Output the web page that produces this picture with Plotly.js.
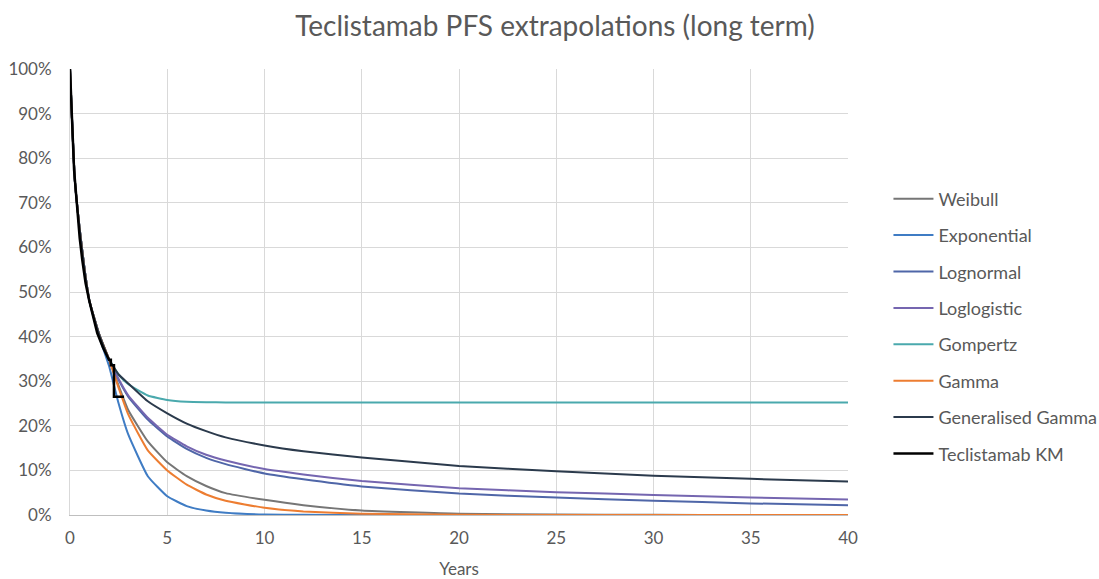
<!DOCTYPE html>
<html>
<head>
<meta charset="utf-8">
<script src="https://cdn.plot.ly/plotly-3.0.1.min.js"></script>
<style>
html,body{margin:0;padding:0;background:#fff;}
#chart{width:1099px;height:579px;}
</style>
</head>
<body>
<div id="chart"></div>
<script>
// Time points (years) for the parametric extrapolations
const years = [0, 0.1, 0.25, 0.5, 0.75, 1, 1.5, 2, 2.5, 3, 4, 5, 6, 7, 8, 10, 12, 15, 20, 25, 30, 35, 40];

// Survival (%) per model
const weibull      = [100, 89, 75, 64, 55, 48, 40.5, 35, 29.0, 23.5, 16.5, 11.8, 8.7, 6.5, 4.9, 3.4, 2.2, 1.0, 0.3, 0.1, 0.03, 0.01, 0];
const exponential  = [100, 89, 75, 64, 55, 48, 40.0, 33.5, 25.0, 18.0, 8.7, 4.2, 2.0, 1.0, 0.5, 0.1, 0.03, 0, 0, 0, 0, 0, 0];
const lognormal    = [100, 89, 75, 64, 55, 48, 40.5, 35, 30.3, 26.5, 21.4, 17.6, 14.8, 12.8, 11.4, 9.3, 8.0, 6.4, 4.8, 3.9, 3.2, 2.6, 2.2];
const loglogistic  = [100, 89, 75, 64, 55, 48, 40.5, 35, 30.5, 26.8, 21.8, 18.0, 15.4, 13.5, 12.2, 10.3, 9.1, 7.6, 6.0, 5.1, 4.5, 3.9, 3.5];
const gompertz     = [100, 89, 75, 64, 55, 48, 40.5, 35, 31.5, 29.3, 26.8, 25.8, 25.4, 25.3, 25.25, 25.2, 25.2, 25.2, 25.2, 25.2, 25.2, 25.2, 25.2];
const gamma        = [100, 89, 75, 64, 55, 48, 40.5, 35, 28.5, 22.5, 14.5, 10.0, 6.8, 4.6, 3.2, 1.6, 0.8, 0.3, 0.05, 0, 0, 0, 0];
const genGamma     = [100, 89, 75, 64, 55, 48, 40.5, 35, 31.5, 29.5, 25.5, 22.8, 20.5, 18.8, 17.4, 15.6, 14.3, 12.9, 11.0, 9.8, 8.8, 8.1, 7.5];

// Kaplan-Meier observed data
const kmYears = [0, 0.05, 0.12, 0.21, 0.3, 0.38, 0.5, 0.63, 0.8, 0.98, 1.2, 1.4, 1.7, 2.0, 2.1, 2.1, 2.26, 2.26, 2.78];
const kmSurv  = [100, 93, 87, 77.4, 72, 68.4, 62, 57.2, 52, 48.2, 44, 40.8, 37.5, 34.8, 34.8, 33.6, 33.6, 26.5, 26.5];

const seriesNames  = ["Weibull", "Exponential", "Lognormal", "Loglogistic", "Gompertz", "Gamma", "Generalised Gamma", "Teclistamab KM"];
const xTicks = [0, 5, 10, 15, 20, 25, 30, 35, 40];
const yTicks = [0, 10, 20, 30, 40, 50, 60, 70, 80, 90, 100];

const colors = ["#767676", "#3f7cc4", "#4f66a8", "#7566b0", "#4aa9ad", "#ed7d31", "#2b3a4c", "#000000"];
const modelData = [weibull, exponential, lognormal, loglogistic, gompertz, gamma, genGamma];

const FONT = "Lato, 'Open Sans', sans-serif";

const traces = modelData.map((ys, i) => ({
  x: years, y: ys, type: "scatter", mode: "lines",
  name: seriesNames[i], legendgroup: "g" + i,
  line: {color: colors[i], width: 2, shape: "spline", smoothing: 0.4},
  hoverinfo: "skip"
}));
traces.push({
  x: kmYears, y: kmSurv, type: "scatter", mode: "lines",
  name: seriesNames[7], legendgroup: "g7",
  line: {color: colors[7], width: 2.5},
  hoverinfo: "skip"
});

const layout = {
  width: 1099, height: 579,
  paper_bgcolor: "#ffffff", plot_bgcolor: "#ffffff",
  margin: {l: 70, r: 251, t: 69, b: 64, autoexpand: false},
  font: {family: FONT, color: "#595959", size: 17},
  title: {
    text: "Teclistamab PFS extrapolations (long term)",
    font: {family: FONT, size: 28, color: "#595959"},
    x: 0.505, xanchor: "center", y: 0.955, yanchor: "middle"
  },
  xaxis: {
    range: [0, 40], tickvals: xTicks, ticktext: xTicks.map(String),
    showgrid: true, gridcolor: "#d9d9d9", gridwidth: 1,
    zeroline: false, showline: true, linecolor: "#bfbfbf", linewidth: 1,
    ticks: "", tickfont: {size: 17, color: "#595959"}, ticklabelstandoff: 8,
    title: {text: "Years", font: {size: 17, color: "#595959"}, standoff: 16}
  },
  yaxis: {
    range: [0, 100], tickvals: yTicks, ticktext: yTicks.map(v => v + "%"),
    showgrid: true, gridcolor: "#d9d9d9", gridwidth: 1,
    zeroline: false, showline: true, linecolor: "#d9d9d9", linewidth: 1,
    ticks: "", tickfont: {size: 17, color: "#595959"}, ticklabelstandoff: 14
  },
  legend: {
    x: 1.052, xanchor: "left", y: 0.75, yanchor: "top",
    font: {size: 18, color: "#595959"},
    tracegroupgap: 10, itemwidth: 40, bgcolor: "rgba(0,0,0,0)"
  },
  showlegend: true
};

Plotly.newPlot("chart", traces, layout, {staticPlot: true, displayModeBar: false});
</script>
</body>
</html>
